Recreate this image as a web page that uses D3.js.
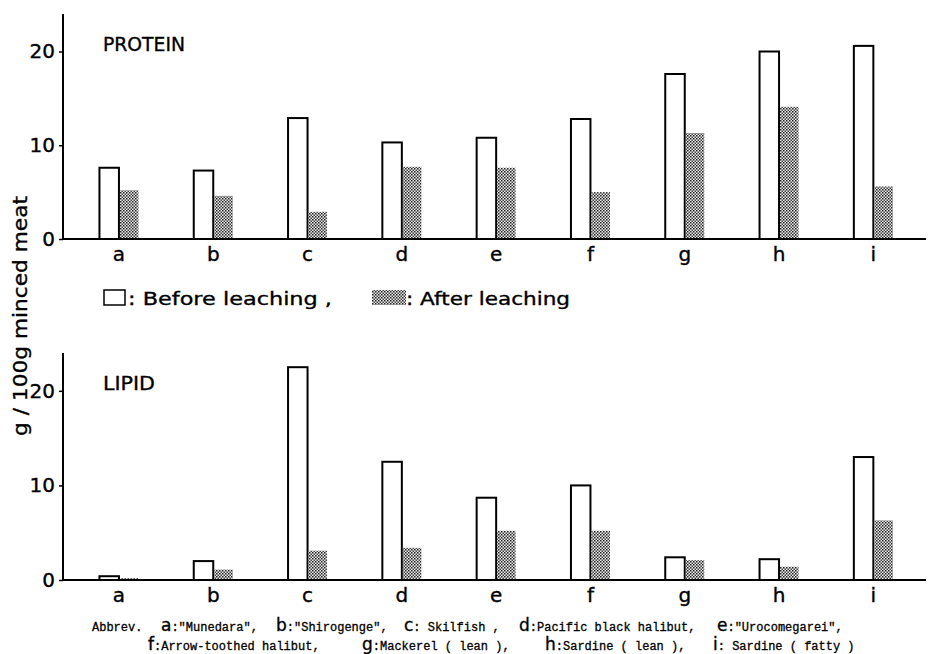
<!DOCTYPE html>
<html>
<head>
<meta charset="utf-8">
<script src="https://cdn.jsdelivr.net/npm/d3@7/dist/d3.min.js"></script>
<style>
  body { margin: 0; background: #fff; }
  svg { display: block; }
  .sans { font-family: "DejaVu Sans", sans-serif; stroke: #000; stroke-width: 0.35px; }
  .mono { font-family: "Liberation Mono", "DejaVu Sans Mono", monospace; stroke: #000; stroke-width: 0.3px; }
</style>
</head>
<body>
<div id="chart"></div>
<script>
// categories (fish species)
const categories = ['a', 'b', 'c', 'd', 'e', 'f', 'g', 'h', 'i'];

// g / 100g minced meat
const proteinBefore = [7.6, 7.3, 12.9, 10.3, 10.8, 12.8, 17.6, 20.0, 20.6];
const proteinAfter  = [5.2, 4.6, 2.9, 7.7, 7.6, 5.0, 11.3, 14.1, 5.6];
const lipidBefore   = [0.4, 2.0, 22.5, 12.5, 8.7, 10.0, 2.4, 2.2, 13.0];
const lipidAfter    = [0.2, 1.1, 3.1, 3.4, 5.2, 5.2, 2.1, 1.4, 6.3];

const yTicks = [0, 10, 20];

// abbreviation lines: [letter, description]
const abbrevLine1 = [['a', ':"Munedara",'], ['b', ':"Shirogenge",'], ['c', ': Skilfish ,'],
                     ['d', ':Pacific black halibut,'], ['e', ':"Urocomegarei",']];
const abbrevLine2 = [['f', ':Arrow-toothed halibut,'], ['g', ':Mackerel ( lean ),'],
                     ['h', ':Sardine ( lean ),'], ['i', ': Sardine ( fatty )']];
// where each letter starts on its line
const abbrevX1 = [161, 276, 404, 519, 717];
const abbrevX2 = [148, 362, 545, 713];

const width = 928, height = 654;

const svg = d3.select('#chart').append('svg')
    .attr('width', width)
    .attr('height', height);

// dotted grey fill used for "after leaching"
const defs = svg.append('defs');
const pat = defs.append('pattern')
    .attr('id', 'dots')
    .attr('width', 3).attr('height', 3)
    .attr('patternUnits', 'userSpaceOnUse');
pat.append('rect').attr('width', 3).attr('height', 3).attr('fill', '#e8e8e8');
pat.append('rect').attr('width', 1.5).attr('height', 1.5).attr('fill', '#222');
pat.append('rect').attr('x', 1.5).attr('y', 1.5).attr('width', 1.5).attr('height', 1.5).attr('fill', '#444');

const x = d3.scaleBand()
    .domain(categories)
    .range([71.8, 920.5])
    .padding(0);

const barW = 19.5;

function drawPanel(title, titleLen, before, after, y0, y1) {
    const y = d3.scaleLinear().domain([0, 24]).range([y0, y1]);
    const g = svg.append('g');

    // bars
    categories.forEach((c, i) => {
        const cx = x(c) + x.bandwidth() / 2;
        g.append('rect')
            .attr('x', cx - barW)
            .attr('y', y(before[i]))
            .attr('width', barW)
            .attr('height', y(0) - y(before[i]))
            .attr('fill', '#fff')
            .attr('stroke', '#000')
            .attr('stroke-width', 2);
        g.append('rect')
            .attr('x', cx + 1)
            .attr('y', y(after[i]))
            .attr('width', barW - 1)
            .attr('height', y(0) - y(after[i]))
            .attr('fill', 'url(#dots)');
    });

    // y axis
    const yAxis = d3.axisLeft(y).tickValues(yTicks).tickSize(4).tickPadding(4);
    const ya = g.append('g')
        .attr('transform', 'translate(63,0)')
        .call(yAxis);
    ya.select('.domain').remove();
    ya.selectAll('line').attr('stroke', '#000').attr('stroke-width', 1.5);
    ya.selectAll('text')
        .attr('class', 'sans')
        .attr('font-size', 20)
        .attr('fill', '#000');
    g.append('line')
        .attr('x1', 63).attr('x2', 63)
        .attr('y1', y1).attr('y2', y(0))
        .attr('stroke', '#000').attr('stroke-width', 2);

    // x axis
    const xAxis = d3.axisBottom(x).tickSize(0).tickPadding(8);
    const xa = g.append('g')
        .attr('transform', `translate(0,${y(0)})`)
        .call(xAxis);
    xa.select('.domain').remove();
    xa.selectAll('text')
        .attr('class', 'sans')
        .attr('font-size', 20)
        .attr('fill', '#000');
    g.append('line')
        .attr('x1', 62).attr('x2', 926)
        .attr('y1', y(0)).attr('y2', y(0))
        .attr('stroke', '#000').attr('stroke-width', 2);

    g.append('text')
        .attr('class', 'sans')
        .attr('x', 103)
        .attr('y', y(20) - 1)
        .attr('font-size', 19)
        .attr('textLength', titleLen)
        .attr('lengthAdjust', 'spacingAndGlyphs')
        .text(title);
}

drawPanel('PROTEIN', 82, proteinBefore, proteinAfter, 239, 14);
drawPanel('LIPID', 52, lipidBefore, lipidAfter, 580, 353);

// y label
svg.append('text')
    .attr('class', 'sans')
    .attr('transform', 'translate(27,316) rotate(-90)')
    .attr('text-anchor', 'middle')
    .attr('font-size', 19)
    .attr('textLength', 240)
    .attr('lengthAdjust', 'spacingAndGlyphs')
    .text('g / 100g  minced  meat');

// legend
const leg = svg.append('g');
leg.append('rect')
    .attr('x', 104).attr('y', 290).attr('width', 21).attr('height', 15)
    .attr('fill', '#fff').attr('stroke', '#000').attr('stroke-width', 1.5);
leg.append('text')
    .attr('class', 'sans').attr('x', 128).attr('y', 305).attr('font-size', 18)
    .attr('textLength', 204).attr('lengthAdjust', 'spacingAndGlyphs')
    .text(': Before  leaching ,');
leg.append('rect')
    .attr('x', 372).attr('y', 290).attr('width', 34).attr('height', 15)
    .attr('fill', 'url(#dots)');
leg.append('text')
    .attr('class', 'sans').attr('x', 406).attr('y', 305).attr('font-size', 18)
    .attr('textLength', 164).attr('lengthAdjust', 'spacingAndGlyphs')
    .text(': After  leaching');

// abbreviations
function abbrevLine(parts, xs, yBase, lead) {
    const t = svg.append('text').attr('y', yBase);
    if (lead) {
        t.append('tspan').attr('class', 'mono').attr('x', lead[1])
            .attr('font-size', 12).text(lead[0]);
    }
    parts.forEach((p, i) => {
        t.append('tspan').attr('class', 'sans').attr('x', xs[i])
            .attr('font-size', 17).text(p[0]);
        t.append('tspan').attr('class', 'mono').attr('font-size', 12).text(p[1]);
    });
}
abbrevLine(abbrevLine1, abbrevX1, 631, ['Abbrev.', 92]);
abbrevLine(abbrevLine2, abbrevX2, 650, null);
</script>
</body>
</html>
